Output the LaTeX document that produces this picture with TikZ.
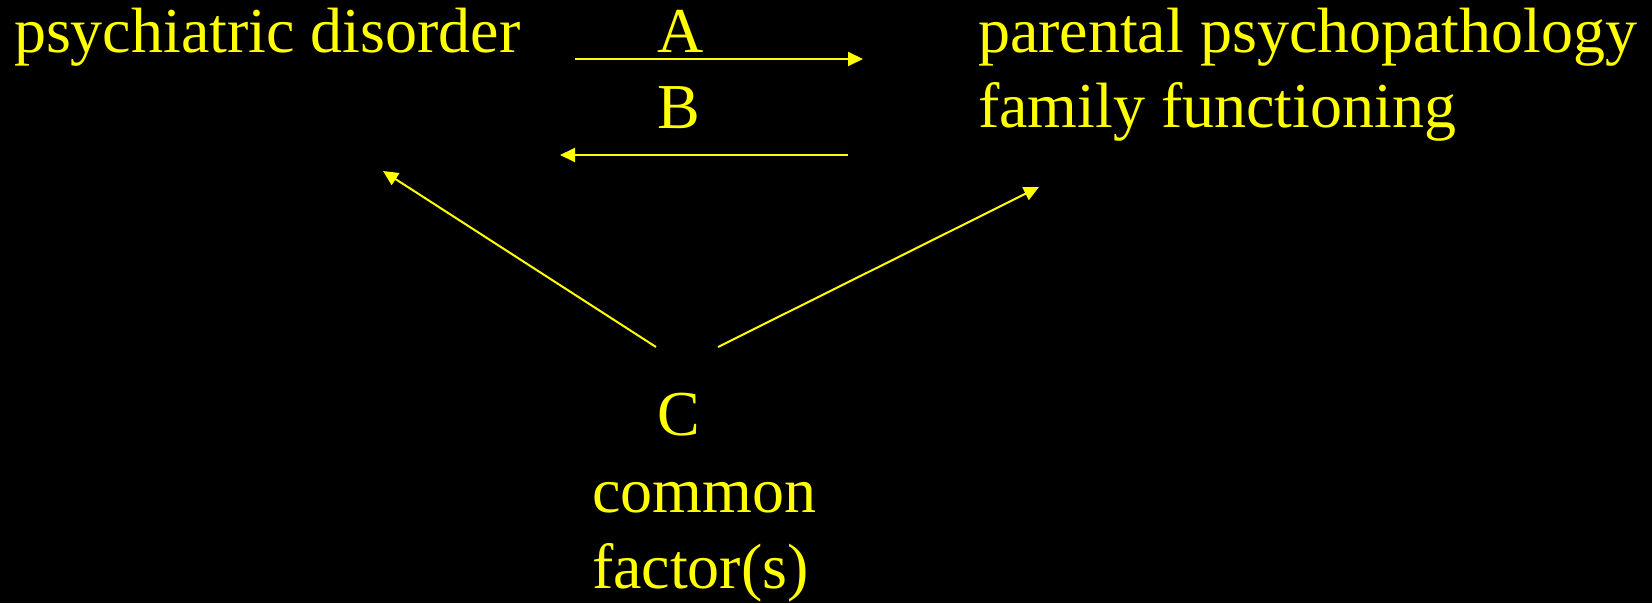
\documentclass[tikz,border=0pt]{standalone}
\usepackage{fontspec}
\setmainfont{Liberation Serif}
\usetikzlibrary{arrows.meta}
\definecolor{txtyellow}{RGB}{255,255,0}
\begin{document}
\begin{tikzpicture}[x=1pt,y=-1pt,
  lbl/.style={anchor=base west,inner sep=0pt,outer sep=0pt,text=txtyellow,font=\fontsize{64}{73}\selectfont},
  conn/.style={draw=txtyellow,line width=2pt,-{Triangle[length=15pt,width=14pt]}}]
\fill[black] (0,0) rectangle (1652,603);
\useasboundingbox (0,0) rectangle (1652,603);
\node[lbl] (psy) at (14,52) {psychiatric disorder};
\node[lbl] (A) at (657,52) {A};
\node[lbl] (B) at (657,128) {B};
\node[lbl] (par) at (978,52) {parental psychopathology};
\node[lbl] (fam) at (978,127) {family functioning};
\node[lbl] (C) at (657,435) {C};
\node[lbl] (com) at (592,512) {common};
\node[lbl] (fac) at (592,588) {factor(s)};
\coordinate (a1) at (575,59);
\coordinate (a2) at (863,59);
\coordinate (b1) at (848,155);
\coordinate (b2) at (560,155);
\coordinate (l1) at (656,347);
\coordinate (l2) at (383,171);
\coordinate (r1) at (718,347);
\coordinate (r2) at (1039,187);
\draw[conn] (a1) -- (a2);
\draw[conn] (b1) -- (b2);
\draw[conn] (l1) -- (l2);
\draw[conn] (r1) -- (r2);
\end{tikzpicture}
\end{document}
